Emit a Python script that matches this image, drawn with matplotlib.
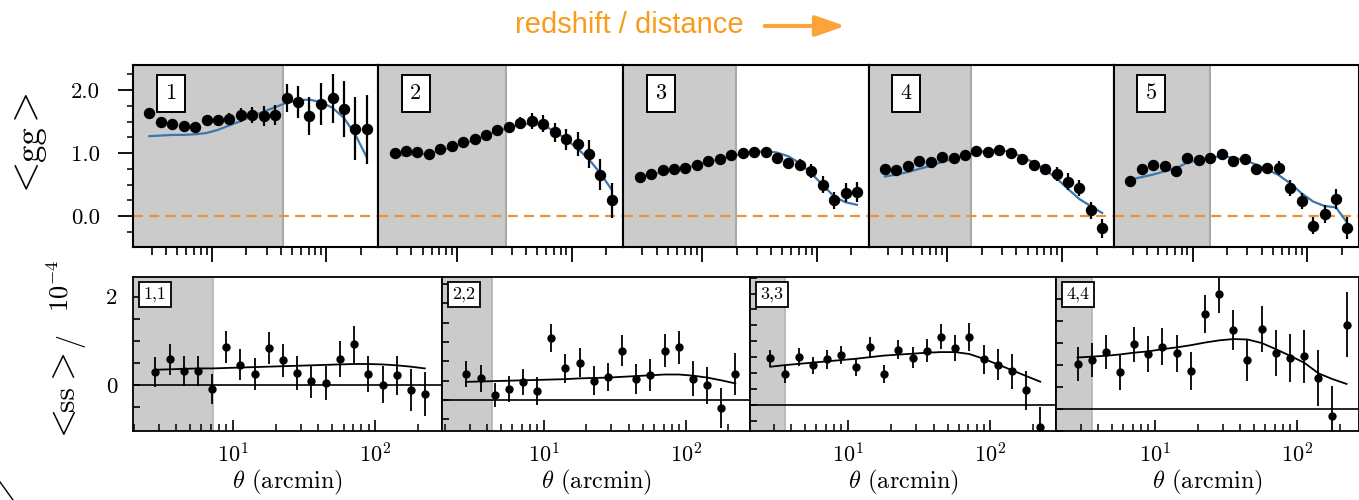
import matplotlib
matplotlib.use('Agg')
import matplotlib.pyplot as plt
from matplotlib.lines import Line2D
from matplotlib.patches import FancyArrowPatch
import numpy as np

plt.rcParams['font.family'] = 'serif'
plt.rcParams['font.serif'] = ['cmr10']
plt.rcParams['mathtext.fontset'] = 'cm'
plt.rcParams['axes.formatter.use_mathtext'] = True

# angular bins (arcmin), same for all panels
theta = [2.85, 3.59, 4.51, 5.68, 7.14, 8.99, 11.3, 14.2, 17.9, 22.5,
         28.4, 35.7, 44.9, 56.5, 71.1, 89.5, 113, 142, 178, 224]

# clustering <gg>, five redshift bins
gg_data = [
    [1.63, 1.50, 1.46, 1.43, 1.41, 1.53, 1.53, 1.55, 1.60, 1.61,
     1.59, 1.61, 1.88, 1.81, 1.59, 1.78, 1.87, 1.70, 1.39, 1.38],
    [1.01, 1.03, 1.02, 0.99, 1.06, 1.11, 1.17, 1.23, 1.29, 1.37,
     1.41, 1.48, 1.51, 1.47, 1.33, 1.22, 1.14, 0.99, 0.66, 0.25],
    [0.62, 0.67, 0.73, 0.75, 0.77, 0.81, 0.88, 0.91, 0.97, 1.00,
     1.02, 1.02, 0.92, 0.85, 0.81, 0.72, 0.50, 0.25, 0.37, 0.38],
    [0.75, 0.74, 0.79, 0.88, 0.86, 0.94, 0.93, 0.97, 1.03, 1.02,
     1.05, 1.01, 0.91, 0.82, 0.75, 0.67, 0.55, 0.45, 0.09, -0.19],
    [0.56, 0.75, 0.81, 0.79, 0.71, 0.92, 0.89, 0.92, 0.98, 0.88,
     0.91, 0.75, 0.76, 0.76, 0.45, 0.24, -0.15, 0.03, 0.27, -0.19],
]
gg_err = [
    [0.03, 0.03, 0.03, 0.04, 0.04, 0.05, 0.06, 0.08, 0.11, 0.13,
     0.16, 0.16, 0.22, 0.25, 0.30, 0.34, 0.39, 0.45, 0.50, 0.55],
    [0.02, 0.02, 0.02, 0.02, 0.02, 0.02, 0.03, 0.03, 0.03, 0.04,
     0.07, 0.09, 0.12, 0.13, 0.15, 0.17, 0.19, 0.22, 0.24, 0.28],
    [0.02, 0.02, 0.02, 0.02, 0.02, 0.02, 0.02, 0.02, 0.02, 0.03,
     0.03, 0.04, 0.06, 0.08, 0.10, 0.11, 0.13, 0.14, 0.15, 0.16],
    [0.02, 0.02, 0.02, 0.02, 0.02, 0.02, 0.02, 0.02, 0.02, 0.02,
     0.02, 0.03, 0.05, 0.07, 0.08, 0.11, 0.13, 0.13, 0.13, 0.15],
    [0.02, 0.02, 0.02, 0.02, 0.02, 0.02, 0.02, 0.02, 0.03, 0.03,
     0.04, 0.07, 0.08, 0.11, 0.13, 0.13, 0.13, 0.14, 0.16, 0.17],
]
gg_model = [
    [1.27, 1.28, 1.29, 1.29, 1.30, 1.32, 1.37, 1.44, 1.51, 1.59,
     1.66, 1.73, 1.80, 1.84, 1.85, 1.81, 1.72, 1.56, 1.30, 0.94],
    [0.96, 0.97, 0.98, 0.99, 1.04, 1.09, 1.15, 1.21, 1.28, 1.35,
     1.41, 1.45, 1.47, 1.44, 1.35, 1.22, 1.07, 0.90, 0.68, 0.42],
    [0.62, 0.66, 0.70, 0.74, 0.77, 0.81, 0.86, 0.90, 0.95, 0.99,
     1.02, 1.03, 1.01, 0.95, 0.84, 0.68, 0.49, 0.31, 0.22, 0.18],
    [0.63, 0.66, 0.70, 0.75, 0.80, 0.86, 0.91, 0.96, 1.01, 1.04,
     1.05, 1.02, 0.94, 0.85, 0.74, 0.60, 0.43, 0.27, 0.16, 0.05],
    [0.58, 0.62, 0.66, 0.71, 0.76, 0.85, 0.89, 0.93, 0.95, 0.93,
     0.89, 0.82, 0.74, 0.65, 0.52, 0.36, 0.23, 0.16, 0.14, -0.11],
]
gg_cut = [42, 26.7, 19.8, 16.2, 14.1]
gg_labels = ['1', '2', '3', '4', '5']

# shear <ss> / 1e-4, four auto-correlations
ss_data = [
    [0.30, 0.59, 0.33, 0.32, -0.08, 0.86, 0.46, 0.26, 0.85, 0.56,
     0.27, 0.09, 0.05, 0.59, 0.92, 0.26, 0.01, 0.23, -0.11, -0.20],
    [0.67, 0.56, 0.13, 0.28, 0.47, 0.23, 1.60, 0.82, 0.97, 0.50,
     0.60, 1.28, 0.54, 0.65, 1.28, 1.36, 0.55, 0.38, -0.20, 0.67],
    [1.46, 0.97, 1.51, 1.24, 1.43, 1.58, 1.19, 1.82, 0.98, 1.74,
     1.48, 1.71, 2.15, 1.79, 2.15, 1.43, 1.27, 1.06, 0.46, -0.71],
    [1.02, 1.11, 1.29, 0.83, 1.47, 1.25, 1.42, 1.27, 0.86, 2.16,
     2.62, 1.79, 1.11, 1.82, 1.27, 1.16, 1.20, 0.71, -0.15, 1.92],
]
ss_err = [
    [0.34, 0.35, 0.34, 0.33, 0.34, 0.36, 0.35, 0.36, 0.36, 0.37,
     0.38, 0.37, 0.39, 0.40, 0.41, 0.41, 0.42, 0.44, 0.48, 0.50],
    [0.33, 0.34, 0.31, 0.34, 0.34, 0.36, 0.36, 0.37, 0.37, 0.37,
     0.37, 0.39, 0.39, 0.41, 0.42, 0.43, 0.45, 0.48, 0.52, 0.54],
    [0.26, 0.28, 0.29, 0.28, 0.29, 0.28, 0.29, 0.30, 0.28, 0.31,
     0.33, 0.35, 0.38, 0.40, 0.44, 0.45, 0.49, 0.55, 0.61, 0.65],
    [0.39, 0.39, 0.39, 0.39, 0.40, 0.41, 0.42, 0.42, 0.43, 0.43,
     0.43, 0.46, 0.48, 0.52, 0.53, 0.55, 0.60, 0.64, 0.68, 0.74],
]
ss_model = [
    [0.35, 0.36, 0.37, 0.38, 0.38, 0.39, 0.40, 0.41, 0.42, 0.43,
     0.44, 0.45, 0.46, 0.47, 0.48, 0.48, 0.47, 0.45, 0.42, 0.38],
    [0.47, 0.48, 0.49, 0.50, 0.51, 0.52, 0.53, 0.54, 0.56, 0.57,
     0.58, 0.60, 0.62, 0.64, 0.66, 0.66, 0.63, 0.58, 0.51, 0.43],
    [1.20, 1.25, 1.29, 1.33, 1.37, 1.41, 1.45, 1.50, 1.55, 1.58,
     1.61, 1.64, 1.66, 1.66, 1.60, 1.45, 1.27, 1.09, 0.91, 0.73],
    [1.17, 1.19, 1.21, 1.24, 1.28, 1.31, 1.36, 1.40, 1.45, 1.51,
     1.56, 1.59, 1.58, 1.50, 1.36, 1.21, 1.05, 0.81, 0.68, 0.57],
]
ss_cut = [7.2, 4.35, 3.63, 3.6]
ss_labels = ['1,1', '2,2', '3,3', '4,4']
ss_ylim = [(-1.03, 2.44), (-0.80, 3.18), (-0.82, 4.02), (-0.50, 3.0)]
ss_xlim = [(1.98, 296), (1.92, 284), (2.05, 289), (2.01, 274)]

W, H = 1359, 500
fig = plt.figure(figsize=(W / 100, H / 100), dpi=100)

def fx(px):
    return px / W

def fy(py):
    return 1 - py / H

gray = '#cbcbcb'
blue = '#3b77ad'
orange = '#f0913a'

# top row: galaxy clustering
x0 = 133
tw = (1359 - 133) / 5
for i in range(5):
    ax = fig.add_axes([fx(x0 + i * tw), fy(247), fx(tw), fy(65) - fy(247)])
    ax.set_xscale('log')
    ax.set_xlim(2.05, 283)
    ax.set_ylim(-0.49, 2.40)
    ax.axvspan(1.0, gg_cut[i], facecolor=gray, edgecolor='#a9a9a9', lw=1.5, zorder=0)
    ax.axhline(0, color=orange, ls=(0, (4.5, 2.8)), lw=1.6, zorder=1)
    ax.plot(theta, gg_model[i], color=blue, lw=1.6, zorder=2)
    ax.errorbar(theta, gg_data[i], yerr=gg_err[i], fmt='o', color='black',
                ms=7.2, elinewidth=1.6, capsize=0, zorder=3)
    ax.text(0.153, 0.843, gg_labels[i], transform=ax.transAxes, fontsize=16,
            ha='center', va='center',
            bbox=dict(boxstyle='square,pad=0.38', fc='white', ec='black', lw=1.4))
    for s in ax.spines.values():
        s.set_linewidth(1.5)
    ax.tick_params(axis='x', which='major', direction='out', length=10.5, width=1.3,
                   labelbottom=False)
    ax.tick_params(axis='x', which='minor', direction='out', length=5.5, width=1.2)
    if i == 0:
        ax.set_yticks([0.0, 1.0, 2.0])
        ax.set_yticklabels(['0.0', '1.0', '2.0'])
        ax.set_yticks(np.arange(-0.25, 2.4, 0.25), minor=True)
        ax.tick_params(axis='y', which='major', direction='out', length=11, width=1.3,
                       labelsize=16.5, pad=13)
        ax.tick_params(axis='y', which='minor', direction='out', length=4.5, width=1.1)
    else:
        ax.tick_params(axis='y', which='both', left=False, labelleft=False)

# bottom row: cosmic shear
edges = [133, 442, 750, 1056, 1359]
for i in range(4):
    ax = fig.add_axes([fx(edges[i]), fy(431), fx(edges[i + 1] - edges[i]), fy(277) - fy(431)])
    ax.set_xscale('log')
    ax.set_xlim(*ss_xlim[i])
    ax.set_ylim(*ss_ylim[i])
    ax.axvspan(1.0, ss_cut[i], facecolor=gray, edgecolor='#b5b5b5', lw=1.2, zorder=0)
    ax.axhline(0, color='black', lw=1.2, zorder=1)
    ax.plot(theta, ss_model[i], color='black', lw=1.3, zorder=2)
    ax.errorbar(theta, ss_data[i], yerr=ss_err[i], fmt='o', color='black',
                ms=5, elinewidth=1.3, capsize=0, zorder=3)
    ax.text(0.034, 0.935, ss_labels[i], transform=ax.transAxes, fontsize=13,
            ha='left', va='top',
            bbox=dict(boxstyle='square,pad=0.25', fc='white', ec='black', lw=1.3))
    for s in ax.spines.values():
        s.set_linewidth(1.3)
    ax.set_xticks([10, 100])
    ax.tick_params(axis='x', which='major', direction='in', length=8, width=1.2,
                   labelsize=16, pad=8)
    ax.tick_params(axis='x', which='minor', direction='in', length=5, width=1.1)
    ax.set_xlabel(r'$\theta$ (arcmin)', fontsize=17.5, labelpad=1)
    ax.set_yticks(np.arange(-0.5, ss_ylim[i][1], 0.5), minor=True)
    if i == 0:
        ax.set_yticks([0, 2])
        ax.set_yticklabels(['0', '2'])
        ax.tick_params(axis='y', which='major', direction='in', length=5, width=1.2,
                       labelsize=16.5, pad=11)
    else:
        ax.set_yticks([])
    ax.tick_params(axis='y', which='minor', direction='in', length=5, width=1.2)

# axis titles, built piece by piece so the brackets can be larger than the text
# (rotated text reads bottom to top, so "<" sits below and ">" above)
fig.text(fx(27), fy(181), r'$<$', rotation=90, fontsize=29, ha='center', va='center')
fig.text(fx(30), fy(143.5), 'gg', rotation=90, fontsize=25, ha='center', va='center')
fig.text(fx(27), fy(111), r'$>$', rotation=90, fontsize=29, ha='center', va='center')

fig.text(fx(64), fy(426.5), r'$<$', rotation=90, fontsize=27, ha='center', va='center')
fig.text(fx(66), fy(398.5), 'ss', rotation=90, fontsize=23, ha='center', va='center')
fig.text(fx(64), fy(369.5), r'$>$', rotation=90, fontsize=27, ha='center', va='center')
fig.text(fx(70), fy(340.5), '/', rotation=90, fontsize=20, ha='center', va='center')
fig.text(fx(60), fy(286), r'$10^{\mathsf{-}4}$', rotation=90, fontsize=19,
         ha='center', va='center')

# redshift arrow
fig.text(fx(515), fy(33), 'redshift / distance', color='#f99b1c', fontsize=21,
         family='Liberation Sans', ha='left', va='baseline')
fig.add_artist(FancyArrowPatch(
    (fx(762), fy(26)), (fx(848), fy(26)), transform=fig.transFigure,
    arrowstyle='-|>,head_length=12,head_width=4.2', color='#fba43a', lw=3,
    mutation_scale=1.5))

# stray corner mark from the source figure
fig.add_artist(Line2D([0, fx(13)], [fy(482), fy(500)], transform=fig.transFigure,
                      color='black', lw=1.0))

fig.savefig('out.png', dpi=100)
